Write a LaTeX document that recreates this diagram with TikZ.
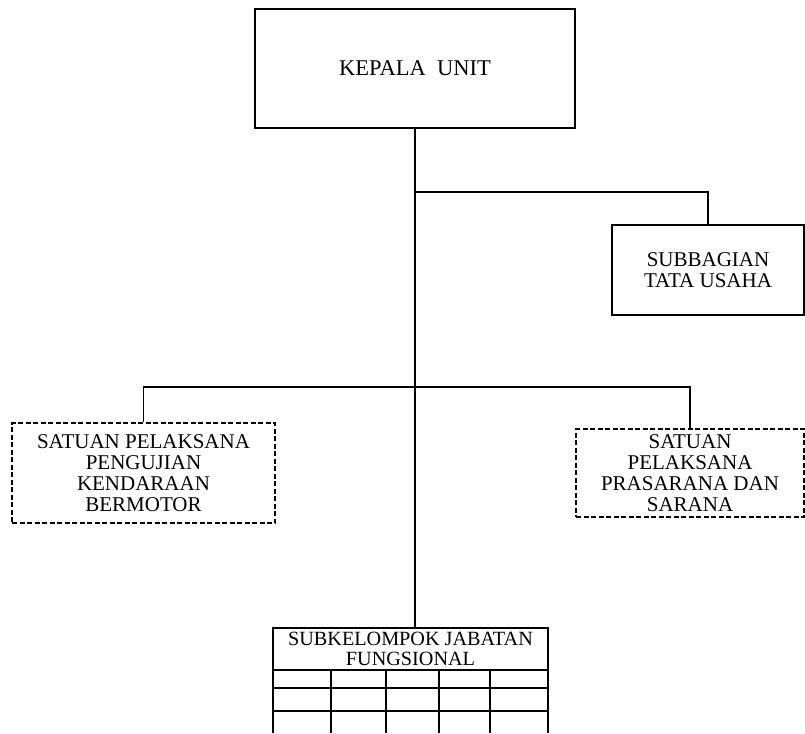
\documentclass[tikz,border=0pt]{standalone}
\usepackage{fontspec}
\setmainfont{Liberation Serif}
\usetikzlibrary{positioning}

\begin{document}
\begin{tikzpicture}[x=1pt, y=-1pt,
    unitbox/.style={rectangle, draw, line width=1.4pt, align=center, inner sep=0pt,
        font=\fontsize{21}{21}\selectfont},
    dashbox/.style={unitbox, line width=1.1pt, dash pattern=on 5pt off 2.5pt},
    link/.style={line width=1.4pt}]
    \useasboundingbox (0,0) rectangle (805,733);

    % Head of the unit
    \node[unitbox, minimum width=320pt, minimum height=119pt, font=\fontsize{22.5}{26}\selectfont]
        (kepala) at (415, 68.5) {KEPALA\ \ UNIT};

    % Administration
    \node[unitbox, minimum width=192pt, minimum height=90pt]
        (subbag) at (708, 270) {SUBBAGIAN\\TATA USAHA};

    % Executing units
    \node[dashbox, minimum width=263pt, minimum height=100pt]
        (uji) at (143.5, 473) {SATUAN PELAKSANA\\PENGUJIAN\\KENDARAAN\\BERMOTOR};
    \node[dashbox, minimum width=228pt, minimum height=88pt]
        (sarana) at (690, 473) {SATUAN\\PELAKSANA\\PRASARANA DAN\\SARANA};

    % Functional group
    \node[unitbox, minimum width=275pt, minimum height=42pt, font=\fontsize{20.2}{20}\selectfont]
        (fungsi) at (410.5, 649) {SUBKELOMPOK JABATAN\\FUNGSIONAL};
    \foreach \yy in {688, 711}
        \draw[link] (273, \yy) -- (548, \yy);
    \foreach \xx in {273, 331, 386, 439, 490, 548}
        \draw[link] (\xx, 670) -- (\xx, 733);

    % Lines
    \coordinate (cabang) at (415, 192);
    \coordinate (palang) at (415, 387);
    \draw[link] (kepala.south) -- (kepala.south |- fungsi.north);
    \draw[link] (cabang) -| (subbag.north);
    \draw[link] (uji.north) |- (palang) -| (sarana.north);
\end{tikzpicture}
\end{document}
